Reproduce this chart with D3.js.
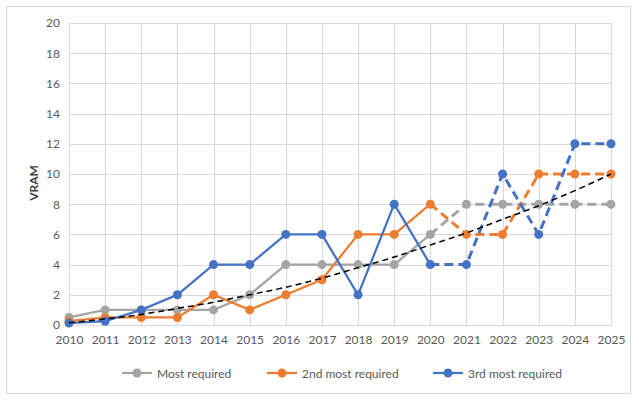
<!DOCTYPE html>
<html><head><meta charset="utf-8">
<script src="https://cdn.jsdelivr.net/npm/d3@7"></script>
<style>body{margin:0;background:#fff;} text{font-family:Lato,"Open Sans",sans-serif;}</style>
</head><body>
<svg id="c" width="639" height="402"></svg>
<script>
const years = [2010,2011,2012,2013,2014,2015,2016,2017,2018,2019,2020,2021,2022,2023,2024,2025];
const mostRequired = [0.5,1,1,1,1,2,4,4,4,4,6,8,8,8,8,8];
const secondRequired = [0.25,0.5,0.5,0.5,2,1,2,3,6,6,8,6,6,10,10,10];
const thirdRequired = [0.125,0.25,1,2,4,4,6,6,2,8,4,4,10,6,12,12];
const trendValues = [0.15,0.4,0.7,1.1,1.5,2.0,2.5,3.1,3.8,4.5,5.3,6.1,7.0,7.9,8.9,10.0];
const yTicks = [0,2,4,6,8,10,12,14,16,18,20];
const forecastStart = 2020;
const seriesNames = ["Most required","2nd most required","3rd most required"];
const colors = ["#A5A5A5","#ED7D31","#4472C4"];

const svg = d3.select("#c");
svg.append("rect").attr("x",6.5).attr("y",6.5).attr("width",624).attr("height",387)
  .attr("fill","#fff").attr("stroke","#D9D9D9").attr("stroke-width",1);

const x = d3.scalePoint().domain(years).range([69,611]);
const y = d3.scaleLinear().domain([0,20]).range([325,23]);

// grid
const g = svg.append("g");
g.selectAll(".hg").data(yTicks).join("line")
  .attr("x1",69).attr("x2",611).attr("y1",d=>Math.round(y(d))+0.5).attr("y2",d=>Math.round(y(d))+0.5)
  .attr("stroke","#D9D9D9").attr("stroke-width",1);
g.selectAll(".vg").data(years).join("line")
  .attr("y1",23).attr("y2",325).attr("x1",d=>Math.round(x(d))+0.5).attr("x2",d=>Math.round(x(d))+0.5)
  .attr("stroke","#D9D9D9").attr("stroke-width",1);

// axes
const yAxis = d3.axisLeft(y).tickValues(yTicks).tickSize(0).tickPadding(9);
const ya = svg.append("g").attr("transform","translate(69,0)").call(yAxis);
ya.select(".domain").remove();
ya.selectAll("text").attr("fill","#595959").style("font-size","12px").style("font-family","Lato, sans-serif");
const xAxis = d3.axisBottom(x).tickSize(0).tickPadding(10);
const xa = svg.append("g").attr("transform","translate(0,325)").call(xAxis);
xa.select(".domain").attr("stroke","#D9D9D9");
xa.selectAll("text").attr("fill","#595959").style("font-size","12px").style("font-family","Lato, sans-serif");

svg.append("text").attr("transform","translate(38,183) rotate(-90)").attr("text-anchor","middle")
  .attr("fill","#404040").style("font-size","12px").style("font-weight","bold").text("VRAM");

const line = d3.line().x(d=>x(d[0])).y(d=>y(d[1]));
const allSeries = [mostRequired, secondRequired, thirdRequired];
allSeries.forEach((vals,i)=>{
  const pts = years.map((yr,k)=>[yr,vals[k]]);
  const solid = pts.filter(p=>p[0]<=forecastStart);
  const dashed = pts.filter(p=>p[0]>=forecastStart);
  svg.append("path").attr("d",line(solid)).attr("fill","none").attr("stroke",colors[i])
    .attr("stroke-width",2.25).attr("stroke-linejoin","round");
  svg.append("path").attr("d",line(dashed)).attr("fill","none").attr("stroke",colors[i])
    .attr("stroke-width",3).attr("stroke-dasharray","9,5").attr("stroke-linejoin","round");
  svg.append("g").selectAll("circle").data(pts).join("circle")
    .attr("cx",d=>x(d[0])).attr("cy",d=>y(d[1])).attr("r",4.5).attr("fill",colors[i]);
});

// trendline
svg.append("path").attr("d",d3.line().curve(d3.curveMonotoneX).x(d=>x(d[0])).y(d=>y(d[1]))(years.map((yr,k)=>[yr,trendValues[k]])))
  .attr("fill","none").attr("stroke","#000").attr("stroke-width",1.5).attr("stroke-dasharray","6,4");

// legend
const legX = [122,267,433];
const leg = svg.append("g");
seriesNames.forEach((n,i)=>{
  const lx = legX[i];
  leg.append("line").attr("x1",lx).attr("x2",lx+30).attr("y1",373).attr("y2",373)
    .attr("stroke",colors[i]).attr("stroke-width",2.25);
  leg.append("circle").attr("cx",lx+15).attr("cy",373).attr("r",4.5).attr("fill",colors[i]);
  leg.append("text").attr("x",lx+35).attr("y",377.5).attr("fill","#595959").style("font-size","12px").text(n);
});
</script>
</body></html>
